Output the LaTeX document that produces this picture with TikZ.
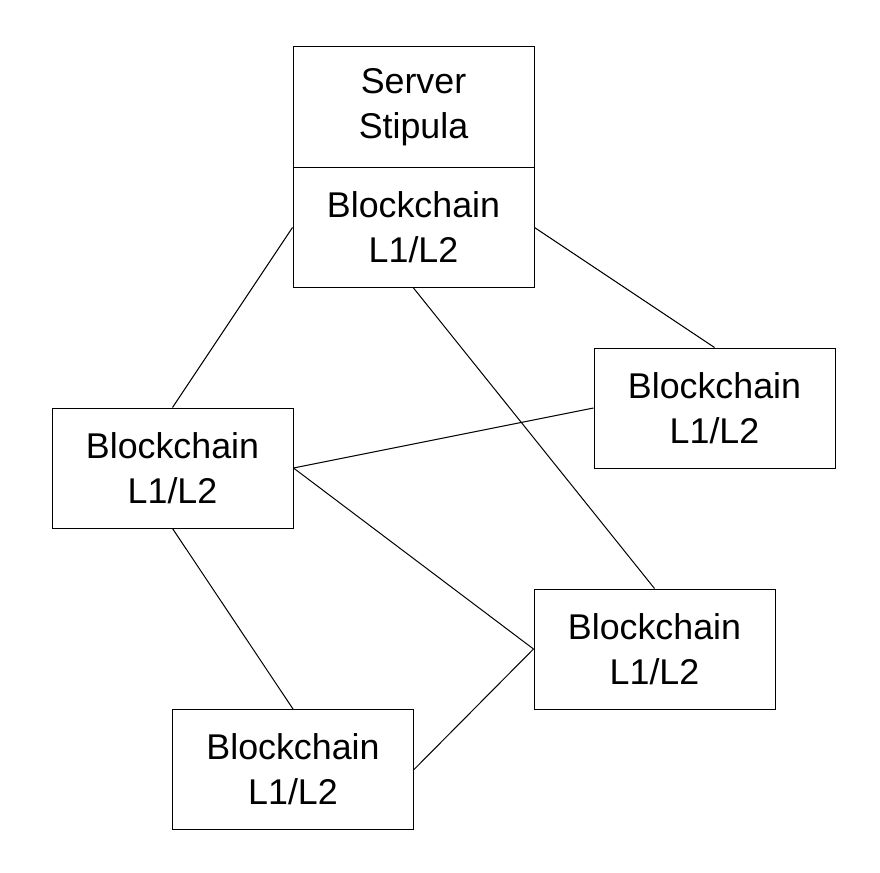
\documentclass[tikz,border=0pt]{standalone}
\usepackage{fontspec}
\setmainfont{Liberation Sans}
\begin{document}
\begin{tikzpicture}[x=1pt,y=-1pt,
  box/.style={draw=black,line width=1pt,fill=white,inner sep=0pt,
    minimum width=241pt,minimum height=120pt,align=center,
    font=\fontsize{35.8}{45}\selectfont},
  link/.style={draw=black,line width=1pt}]
\useasboundingbox (0,0) rectangle (880,872);
\node[box] (srv) at (413.5,107) {Server\\Stipula};
\node[box] (top) at (413.5,227.5) {Blockchain\\L1/L2};
\node[box] (left) at (172.5,468) {Blockchain\\L1/L2};
\node[box] (right) at (714.5,408) {Blockchain\\L1/L2};
\node[box] (mid) at (654.5,649) {Blockchain\\L1/L2};
\node[box] (bot) at (293,769.5) {Blockchain\\L1/L2};
\draw[link] (top.west) -- (left.north);
\draw[link] (top.east) -- (right.north);
\draw[link] (top.south) -- (mid.north);
\draw[link] (left.east) -- (right.west);
\draw[link] (left.east) -- (mid.west);
\draw[link] (left.south) -- (bot.north);
\draw[link] (bot.east) -- (mid.west);
\end{tikzpicture}
\end{document}
